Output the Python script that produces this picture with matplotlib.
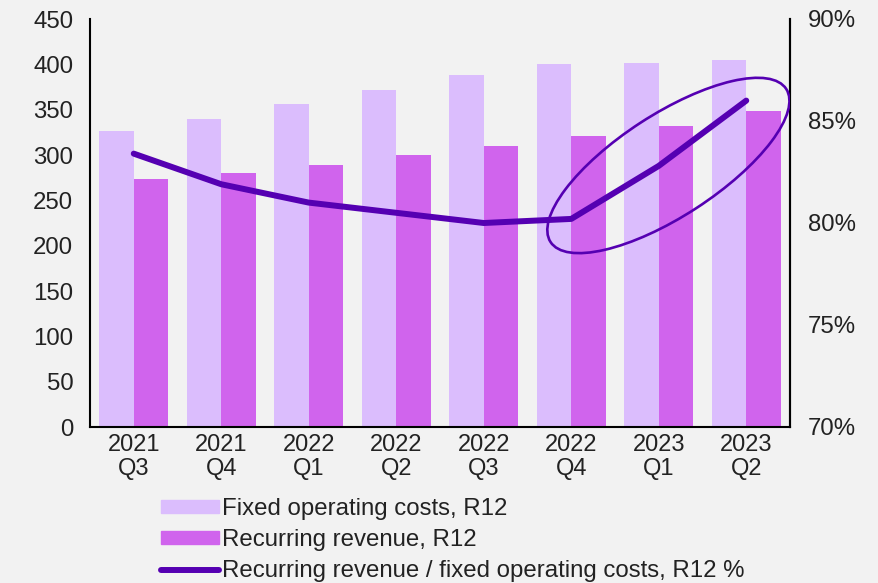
import numpy as np
import matplotlib.pyplot as plt
from matplotlib.patches import Ellipse
from matplotlib.lines import Line2D
from matplotlib.transforms import ScaledTranslation

plt.rcParams["font.family"] = ["Liberation Sans", "DejaVu Sans"]

quarters = ["2021\nQ3", "2021\nQ4", "2022\nQ1", "2022\nQ2", "2022\nQ3", "2022\nQ4", "2023\nQ1", "2023\nQ2"]
fixed_costs = [327, 340, 356, 372, 388, 400, 402, 405]
recurring_rev = [273, 280, 289, 300, 310, 321, 332, 349]
ratio_pct = [83.4, 81.9, 81.0, 80.5, 80.0, 80.2, 82.8, 86.0]

BG = "#f2f2f2"
C_FIXED = "#dbbdfd"
C_REC = "#d064ed"
C_LINE = "#5500b2"
FS = 17.3

fig = plt.figure(figsize=(8.79, 5.83), dpi=100, facecolor=BG)
ax = fig.add_axes([90 / 879, 1 - 427 / 583, 700 / 879, 408 / 583])
ax.set_facecolor(BG)

x = np.arange(len(quarters))
w = 0.395
ax.bar(x - w / 2, fixed_costs, width=w, color=C_FIXED, zorder=2)
ax.bar(x + w / 2, recurring_rev, width=w, color=C_REC, zorder=2)
ax.set_xlim(-0.5, len(quarters) - 0.5)
ax.set_ylim(0, 450)
ax.set_yticks(range(0, 451, 50))
ax.set_xticks(x)
ax.set_xticklabels(quarters, linespacing=1.12)
ax.tick_params(axis="both", length=0, labelsize=FS, colors="#222222")
ax.tick_params(axis="x", labelsize=17, pad=5)
ax.tick_params(axis="y", pad=12)
for s in ["left", "bottom", "right"]:
    ax.spines[s].set_linewidth(1.5)
    ax.spines[s].set_color("black")
ax.spines["top"].set_visible(False)

ax2 = ax.twinx()
ax2.plot(x, ratio_pct, color=C_LINE, lw=4.3, solid_capstyle="round", solid_joinstyle="round", zorder=3)
ax2.set_ylim(70, 90)
ax2.set_yticks(range(70, 91, 5))
ax2.set_yticklabels([f"{v}%" for v in range(70, 91, 5)])
ax2.tick_params(axis="y", length=0, labelsize=FS, colors="#222222", pad=13)
ax2.spines["top"].set_visible(False)
ax2.spines["right"].set_linewidth(1.5)
ax2.spines["left"].set_visible(False)
ax2.spines["bottom"].set_visible(False)

# highlight ellipse around the last three points
ell = Ellipse((0, 0), 2.81, 1.02, angle=33, fill=False, edgecolor=C_LINE, lw=1.9,
              transform=fig.dpi_scale_trans + ScaledTranslation(6.11, 82.82, ax2.transData),
              zorder=4)
ax2.add_patch(ell)

handles = [
    plt.Rectangle((0, 0), 1, 1, color=C_FIXED),
    plt.Rectangle((0, 0), 1, 1, color=C_REC),
    Line2D([0], [0], color=C_LINE, lw=4.3, solid_capstyle="round"),
]
labels = [
    "Fixed operating costs, R12",
    "Recurring revenue, R12",
    "Recurring revenue / fixed operating costs, R12 %",
]
fig.legend(handles, labels, loc="upper left", bbox_to_anchor=(161 / 879, 1 - 498 / 583),
           frameon=False, fontsize=FS, handlelength=2.4, handleheight=0.5, handletextpad=0.12,
           labelspacing=0.38, borderaxespad=0, borderpad=0, labelcolor="#222222")

fig.savefig("out.png", dpi=100, facecolor=BG)
